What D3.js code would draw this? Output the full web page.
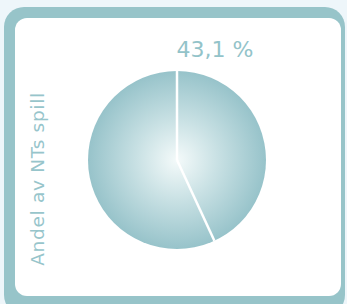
<!DOCTYPE html>
<html><head><meta charset="utf-8">
<script src="https://cdn.jsdelivr.net/npm/d3@7"></script>
<style>html,body{margin:0;padding:0;background:#eef6fa;}svg{display:block;}</style>
</head><body>
<svg id="c" width="347" height="304"></svg>
<script>
const categories = ["NT", "Andre"];
const values = [43.1, 56.9];
const valueLabel = "43,1 %";
const axisTitle = "Andel av NTs spill";

const svg = d3.select("#c");
const teal = "#97c4c9";
svg.append("rect").attr("x",4).attr("y",7).attr("width",341).attr("height",308).attr("rx",20).attr("fill",teal);
svg.append("rect").attr("x",15).attr("y",18).attr("width",326).attr("height",278).attr("rx",12).attr("fill","#ffffff");

const defs = svg.append("defs");
const g = defs.append("radialGradient").attr("id","rg").attr("cx","50%").attr("cy","50%").attr("r","50%");
g.append("stop").attr("offset","0%").attr("stop-color","#f4fafa");
g.append("stop").attr("offset","45%").attr("stop-color","#c9e1e4");
g.append("stop").attr("offset","100%").attr("stop-color","#97c3ca");

const cx = 177, cy = 160, r = 89;
const pie = d3.pie().sort(null).value(d => d);
const pg = svg.append("g").attr("transform",`translate(${cx},${cy})`);
pg.append("circle").attr("r",r).attr("fill","url(#rg)");
const arcs = pie(values);
pg.selectAll("line.sep").data(arcs).join("line")
  .attr("x1",0).attr("y1",0)
  .attr("x2",d=>r*Math.sin(d.startAngle)).attr("y2",d=>-r*Math.cos(d.startAngle))
  .attr("stroke","#ffffff").attr("stroke-width",2.5);

svg.append("text").attr("x",215).attr("y",57).attr("text-anchor","middle")
  .attr("font-family","DejaVu Sans").attr("font-size",22).attr("fill","#93c3c9").text(valueLabel);

svg.append("text").attr("transform","translate(44,179) rotate(-90)").attr("text-anchor","middle")
  .attr("font-family","DejaVu Sans").attr("font-size",18.5).attr("letter-spacing",0.7).attr("fill","#97c5cb").text(axisTitle);
</script>
</body></html>
